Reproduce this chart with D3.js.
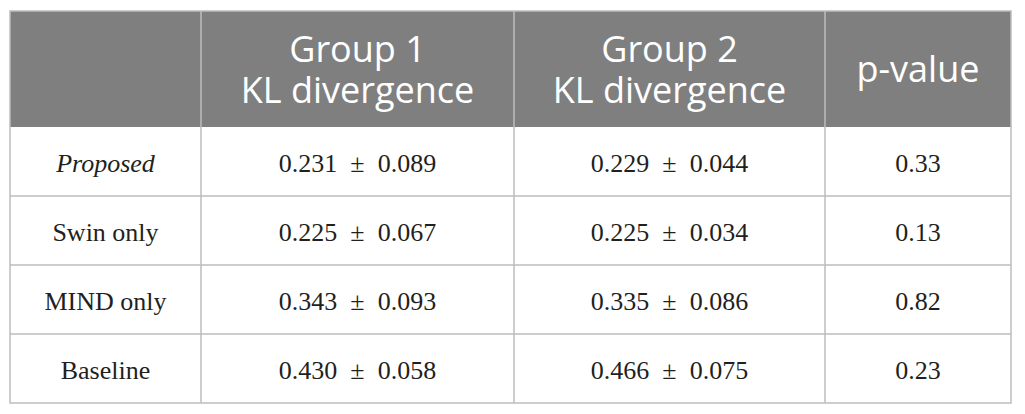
<!DOCTYPE html>
<html>
<head>
<meta charset="utf-8">
<script src="https://cdn.jsdelivr.net/npm/d3@7"></script>
<style>
  body { margin: 0; background: #fff; }
</style>
</head>
<body>
<svg id="table" width="1025" height="414"></svg>
<script>
(function () {
    // table values
    var methods = ["Proposed", "Swin only", "MIND only", "Baseline"];
    var group1Mean = ["0.231", "0.225", "0.343", "0.430"];
    var group1Sd = ["0.089", "0.067", "0.093", "0.058"];
    var group2Mean = ["0.229", "0.225", "0.335", "0.466"];
    var group2Sd = ["0.044", "0.034", "0.086", "0.075"];
    var pValues = ["0.33", "0.13", "0.82", "0.23"];
    var headers = [[""], ["Group 1", "KL divergence"], ["Group 2", "KL divergence"], ["p-value"]];

    var left = 10, top = 11, headerH = 116, bottom = 403;
    var colEdges = [10, 201, 514, 825, 1011];

    var svg = d3.select("#table");

    // rows of the body
    var y = d3.scaleBand()
        .domain(d3.range(methods.length))
        .range([top + headerH, bottom]);

    var colMid = function (i) { return (colEdges[i] + colEdges[i + 1]) / 2; };

    // header background
    svg.append("rect")
        .attr("x", left).attr("y", top)
        .attr("width", colEdges[4] - left).attr("height", headerH)
        .attr("fill", "#7f7f7f");

    // header text
    headers.forEach(function (lines, i) {
        var t = svg.append("text")
            .attr("x", colMid(i))
            .attr("text-anchor", "middle")
            .attr("font-family", "'Open Sans', sans-serif")
            .attr("font-size", 36)
            .attr("fill", "#fff");
        var n = lines.length;
        lines.forEach(function (l, k) {
            t.append("tspan")
                .attr("x", colMid(i))
                .attr("y", top + headerH / 2 + 13 + (k - (n - 1) / 2) * 41)
                .text(l);
        });
    });

    // body rows
    var rows = methods.map(function (m, i) {
        return [m,
            group1Mean[i] + "\u2002\u00b1\u2002" + group1Sd[i],
            group2Mean[i] + "\u2002\u00b1\u2002" + group2Sd[i],
            pValues[i]];
    });

    rows.forEach(function (r, i) {
        r.forEach(function (cell, j) {
            svg.append("text")
                .attr("x", colMid(j))
                .attr("y", y(i) + y.bandwidth() / 2 + 10)
                .attr("text-anchor", "middle")
                .attr("font-family", "'Liberation Serif', 'Times New Roman', serif")
                .attr("font-size", 26)
                .attr("font-style", i === 0 && j === 0 ? "italic" : "normal")
                .attr("fill", "#231f20")
                .text(cell);
        });
    });

    // grid lines
    var grid = svg.append("g")
        .attr("stroke", "#bdbdbd")
        .attr("stroke-width", 1.5)
        .attr("fill", "none");

    d3.range(methods.length).forEach(function (i) {
        if (i > 0) {
            grid.append("line")
                .attr("x1", left).attr("x2", colEdges[4])
                .attr("y1", y(i)).attr("y2", y(i));
        }
    });

    colEdges.slice(1, 4).forEach(function (cx) {
        grid.append("line")
            .attr("x1", cx).attr("x2", cx)
            .attr("y1", top).attr("y2", bottom);
    });

    grid.append("rect")
        .attr("x", left).attr("y", top)
        .attr("width", colEdges[4] - left)
        .attr("height", bottom - top);
})();
</script>
</body>
</html>
